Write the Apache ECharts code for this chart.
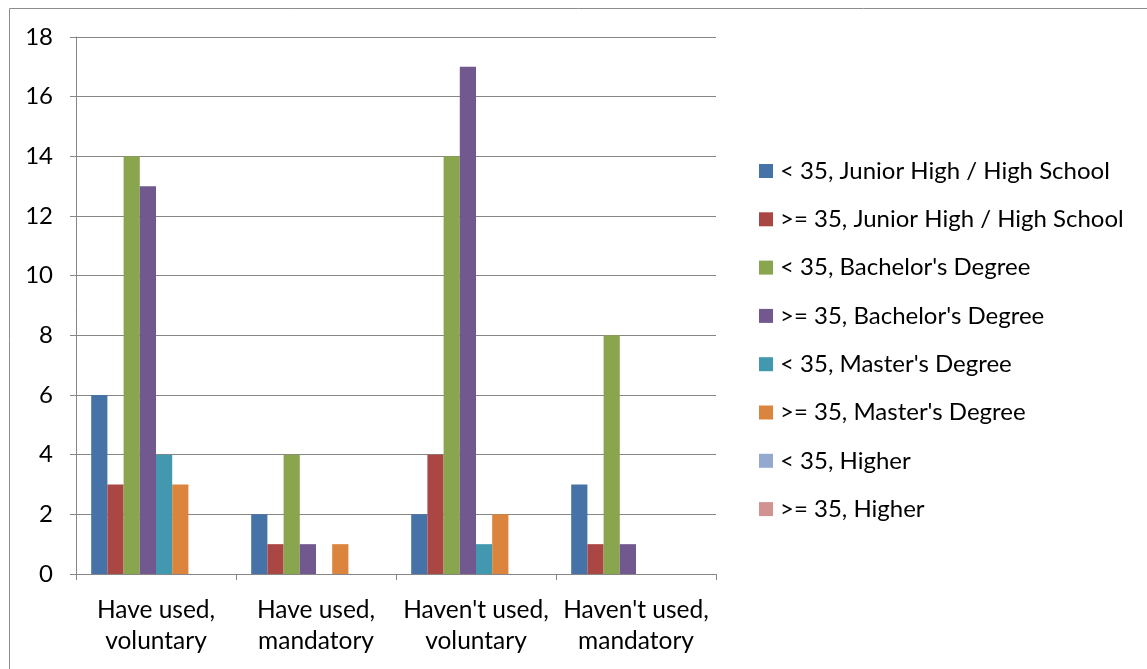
<!DOCTYPE html>
<html><head><meta charset="utf-8">
<script src="https://cdn.jsdelivr.net/npm/echarts@6/dist/echarts.min.js"></script>
<style>html,body{margin:0;padding:0;background:#fff}#c{width:1147px;height:669px}</style>
</head><body><div id="c"></div>
<script>
const categories = ["Have used,\nvoluntary", "Have used,\nmandatory", "Haven't used,\nvoluntary", "Haven't used,\nmandatory"];
const seriesNames = ["< 35, Junior High / High School", ">= 35, Junior High / High School", "< 35, Bachelor's Degree", ">= 35, Bachelor's Degree", "< 35, Master's Degree", ">= 35, Master's Degree", "< 35, Higher", ">= 35, Higher"];
const lt35JHS = [6, 2, 2, 3];
const ge35JHS = [3, 1, 4, 1];
const lt35Bach = [14, 4, 14, 8];
const ge35Bach = [13, 1, 17, 1];
const lt35Mast = [4, 0, 1, 0];
const ge35Mast = [3, 1, 2, 0];
const lt35High = [0, 0, 0, 0];
const ge35High = [0, 0, 0, 0];
const colors = ["#4572A7", "#AA4643", "#89A54E", "#71588F", "#4198AF", "#DB843D", "#93A9CF", "#D19392"];
const values = [lt35JHS, ge35JHS, lt35Bach, ge35Bach, lt35Mast, ge35Mast, lt35High, ge35High];

const font = "Lato, 'Open Sans', sans-serif";
const chart = echarts.init(document.getElementById('c'), null, {renderer: 'canvas'});
chart.setOption({
  animation: false,
  color: colors,
  graphic: [{type: 'rect', shape: {x: 9.5, y: 8.5, width: 1200, height: 700}, style: {fill: 'none', stroke: '#8c8c8c', lineWidth: 1}, silent: true}],
  grid: {left: 76, right: 431, top: 37, bottom: 95},
  legend: {
    orient: 'vertical', left: 759, top: 159, padding: 0, itemWidth: 14, itemHeight: 14, itemGap: 24.3, icon: 'rect',
    textStyle: {fontFamily: font, fontSize: 24, color: '#000', padding: [0, 0, 0, 2]},
    data: seriesNames
  },
  xAxis: {
    type: 'category', data: categories,
    axisLine: {lineStyle: {color: '#868686'}},
    axisTick: {show: true, length: 6, lineStyle: {color: '#868686'}},
    axisLabel: {interval: 0, fontFamily: font, fontSize: 24.5, color: '#000', lineHeight: 31, margin: 21}
  },
  yAxis: {
    type: 'value', min: 0, max: 18, interval: 2,
    axisLine: {show: true, lineStyle: {color: '#868686'}},
    axisTick: {show: true, length: 6, lineStyle: {color: '#868686'}},
    splitLine: {lineStyle: {color: '#868686'}},
    axisLabel: {fontFamily: font, fontSize: 24, color: '#000', margin: 23}
  },
  series: seriesNames.map((n, i) => ({
    name: n, type: 'bar', data: values[i], barGap: '0%', barCategoryGap: '19%'
  }))
});
</script></body></html>
